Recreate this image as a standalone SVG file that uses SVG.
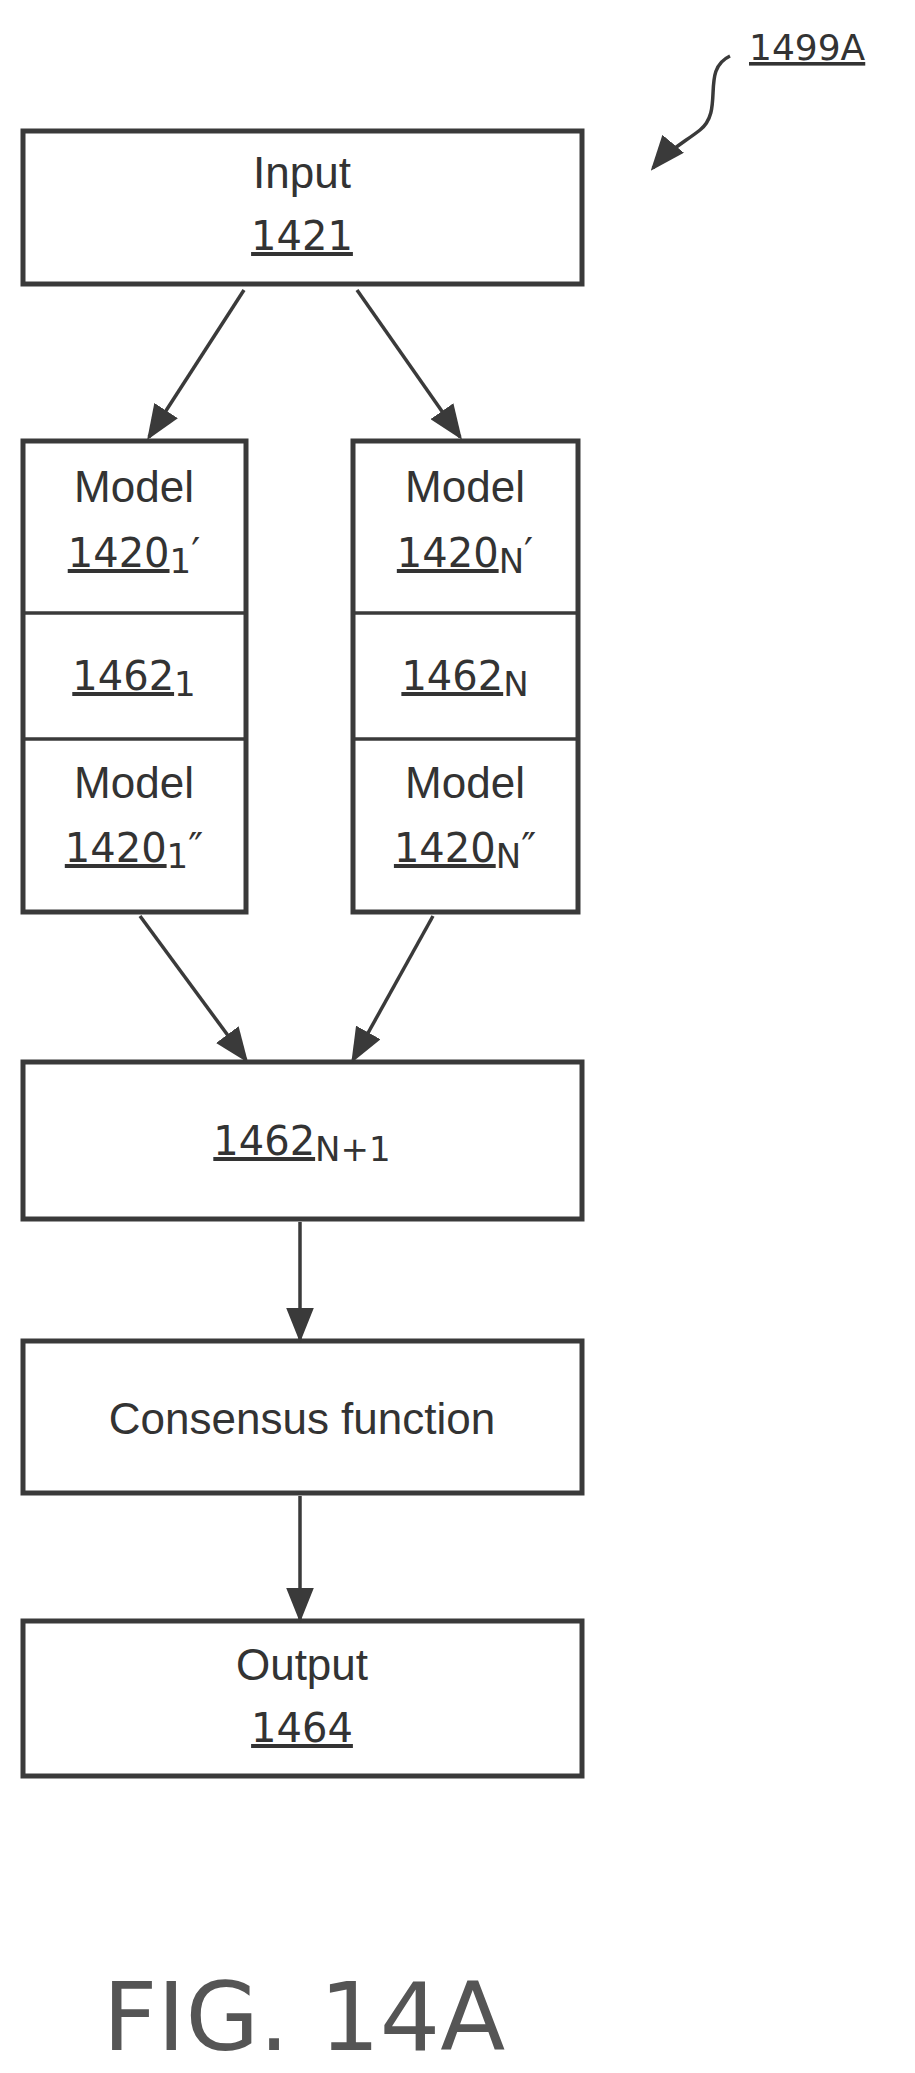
<svg xmlns="http://www.w3.org/2000/svg" width="915" height="2073" viewBox="0 0 915 2073">
<style>
.b{fill:#fff;stroke:#3a3a3a;stroke-width:5}
.c{fill:none;stroke:#3a3a3a;stroke-width:3.5}
.w{font-family:"Liberation Sans",Arial,sans-serif;font-size:44px;fill:#333;text-anchor:middle}
.n{font-family:"DejaVu Sans",sans-serif;font-size:40px;fill:#333;text-anchor:middle}
.u{text-decoration:underline}
.s{font-size:34px}
</style>
<defs><marker id="a" markerWidth="10" markerHeight="8" refX="9" refY="4" orient="auto" markerUnits="strokeWidth"><path d="M0,0 L10,4 L0,8 Z" fill="#3a3a3a"/></marker></defs>
<rect width="915" height="2073" fill="#fff"/>
<g id="label1499A"><text x="749" y="60" class="n" style="text-anchor:start;font-size:36px" text-decoration="underline">1499A</text></g>
<g id="input"><rect class="b" x="23" y="131" width="559" height="153"/><text class="w" x="302" y="188">Input</text><text class="n u" x="302" y="250">1421</text></g>
<g id="left"><rect class="b" x="23" y="441" width="223" height="471"/><line class="c" x1="23" y1="613" x2="246" y2="613"/><line class="c" x1="23" y1="739" x2="246" y2="739"/>
<text class="w" x="134" y="502">Model</text><text class="n" x="134" y="567"><tspan class="u">1420</tspan><tspan class="s" dy="6">1</tspan><tspan dy="-6">′</tspan></text>
<text class="n" x="134" y="690"><tspan class="u">1462</tspan><tspan class="s" dy="6">1</tspan></text>
<text class="w" x="134" y="798">Model</text><text class="n" x="134" y="862"><tspan class="u">1420</tspan><tspan class="s" dy="6">1</tspan><tspan dy="-6">″</tspan></text></g>
<g id="right"><rect class="b" x="353" y="441" width="225" height="471"/><line class="c" x1="353" y1="613" x2="578" y2="613"/><line class="c" x1="353" y1="739" x2="578" y2="739"/>
<text class="w" x="465" y="502">Model</text><text class="n" x="465" y="567"><tspan class="u">1420</tspan><tspan class="s" dy="6">N</tspan><tspan dy="-6">′</tspan></text>
<text class="n" x="465" y="690"><tspan class="u">1462</tspan><tspan class="s" dy="6">N</tspan></text>
<text class="w" x="465" y="798">Model</text><text class="n" x="465" y="862"><tspan class="u">1420</tspan><tspan class="s" dy="6">N</tspan><tspan dy="-6">″</tspan></text></g>
<g id="n1462N1"><rect class="b" x="23" y="1062" width="559" height="157"/><text class="n" x="302" y="1155"><tspan class="u">1462</tspan><tspan class="s" dy="6">N+1</tspan></text></g>
<g id="consensus"><rect class="b" x="23" y="1341" width="559" height="152"/><text class="w" x="302" y="1434">Consensus function</text></g>
<g id="output"><rect class="b" x="23" y="1621" width="559" height="155"/><text class="w" x="302" y="1680">Output</text><text class="n u" x="302" y="1742">1464</text></g>
<g id="connectors">
<line class="c" x1="244" y1="290" x2="149" y2="437" marker-end="url(#a)"/>
<line class="c" x1="357" y1="290" x2="460" y2="437" marker-end="url(#a)"/>
<line class="c" x1="140" y1="916" x2="246" y2="1060" marker-end="url(#a)"/>
<line class="c" x1="433" y1="916" x2="353" y2="1060" marker-end="url(#a)"/>
<line class="c" x1="300" y1="1222" x2="300" y2="1339" marker-end="url(#a)"/>
<line class="c" x1="300" y1="1496" x2="300" y2="1619" marker-end="url(#a)"/>
<path class="c" d="M730,56 C700,70 725,110 700,130 C685,142 668,150 653,168" marker-end="url(#a)"/>
</g>
<g id="fig"><text x="304" y="2050" style="font-family:'DejaVu Sans',sans-serif;font-size:95px;fill:#555;text-anchor:middle">FIG. 14A</text></g>
</svg>
